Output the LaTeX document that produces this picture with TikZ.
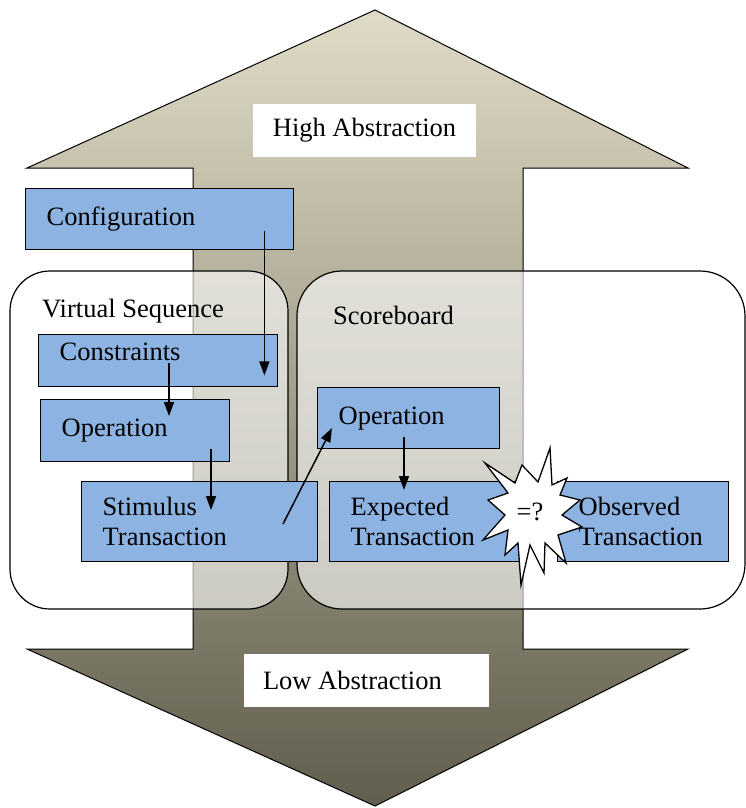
\documentclass[tikz,border=0pt]{standalone}
\usepackage{fontspec}
\setmainfont{Liberation Serif}
\usetikzlibrary{arrows.meta,calc}

\definecolor{boxblue}{HTML}{8DB3E2}
\definecolor{arrtop}{HTML}{DFDBC6}
\definecolor{arrmid}{HTML}{B6B19C}
\definecolor{arrbot}{HTML}{615E4D}

\tikzset{
  txt/.style={font=\fontsize{26.5}{30}\selectfont},
  bluebox/.style 2 args={draw=black, line width=1.4pt, fill=boxblue, txt,
    anchor=north west, inner xsep=21pt, inner ysep=0pt,
    text width=#1pt-42pt, minimum height=#2pt, align=flush left},
  container/.style={draw=black, line width=1.2pt, fill=white, fill opacity=0.6,
    rounded corners=40pt},
  label/.style={fill=white, txt, inner ysep=0pt},
  flow/.style={line width=1.5pt, -{Triangle[length=14pt,width=10pt]}},
}

\begin{document}
\begin{tikzpicture}[x=1pt, y=-1pt]
\useasboundingbox (0,0) rectangle (746,808);

% the two-headed abstraction arrow
\path[top color=arrtop, middle color=arrmid, bottom color=arrbot, draw=black, line width=1pt]
  (375,10) -- (688,168) -- (523,168) -- (523,649) -- (688,649) -- (375,806)
  -- (27,649) -- (193,649) -- (193,168) -- (27,168) -- cycle;

\node[label, inner xsep=0pt, minimum width=223pt, minimum height=53pt] (high) at (364.5,130.5) {High Abstraction};
\node[label, inner xsep=19pt, text width=207pt, align=flush left, minimum height=53pt] (low) at (366.5,680.5) {Low Abstraction};

% containers
\draw[container] (10,271) rectangle (288,609);
\draw[container, rounded corners=45pt] (297,271) rectangle (745,609);
\node[txt, anchor=west, inner sep=0pt] (vslabel) at (42,311) {Virtual Sequence};
\node[txt, anchor=west, inner sep=0pt] (sblabel) at (333,315) {Scoreboard};

% blocks
\node[bluebox={268}{61}] (cfg) at (25,188) {Configuration};
\node[bluebox={239}{52}, text height=26pt, text depth=26pt] (cons) at (38,334) {Constraints};
\node[bluebox={189}{62}] (opl) at (40,399) {Operation};
\node[bluebox={236}{80}] (stim) at (81,481) {Stimulus\\Transaction};
\node[bluebox={182}{61}] (opr) at (317,387) {Operation};
\node[bluebox={192}{80}] (exp) at (329,481) {Expected\\Transaction};
\node[bluebox={171}{80}] (obs) at (557,481) {Observed\\Transaction};

% comparison burst
\draw[fill=white, line width=1.3pt, line join=miter]
  (550,448) -- (552,485) -- (567,478) -- (560,495) -- (580,500) -- (562,515)
  -- (582,527) -- (558,535) -- (566,563) -- (545,543) -- (544,573) -- (530,545)
  -- (521,585) -- (518,543) -- (505,555) -- (508,530) -- (483,540) -- (505,515)
  -- (488,500) -- (508,493) -- (485,463) -- (515,483) -- (522,465) -- (538,482) -- cycle;
\node[txt, inner sep=0pt] (cmp) at (530,512) {=?};

% flow arrows
\draw[flow] ($(cfg.south east)+(-30,-19)$) -- ($(cons.south east)+(-14,-12)$);
\draw[flow] ($(cons.north west)+(131,29)$) -- ($(opl.north west)+(129,17)$);
\draw[flow] ($(opl.south west)+(171,-13)$) -- ($(stim.north west)+(130,29)$);
\draw[flow] ($(stim.north west)+(202,43)$) -- ($(opr.north west)+(15,41)$);
\draw[flow] ($(opr.north west)+(87,50)$) -- ($(exp.north west)+(75,9)$);
\end{tikzpicture}
\end{document}
